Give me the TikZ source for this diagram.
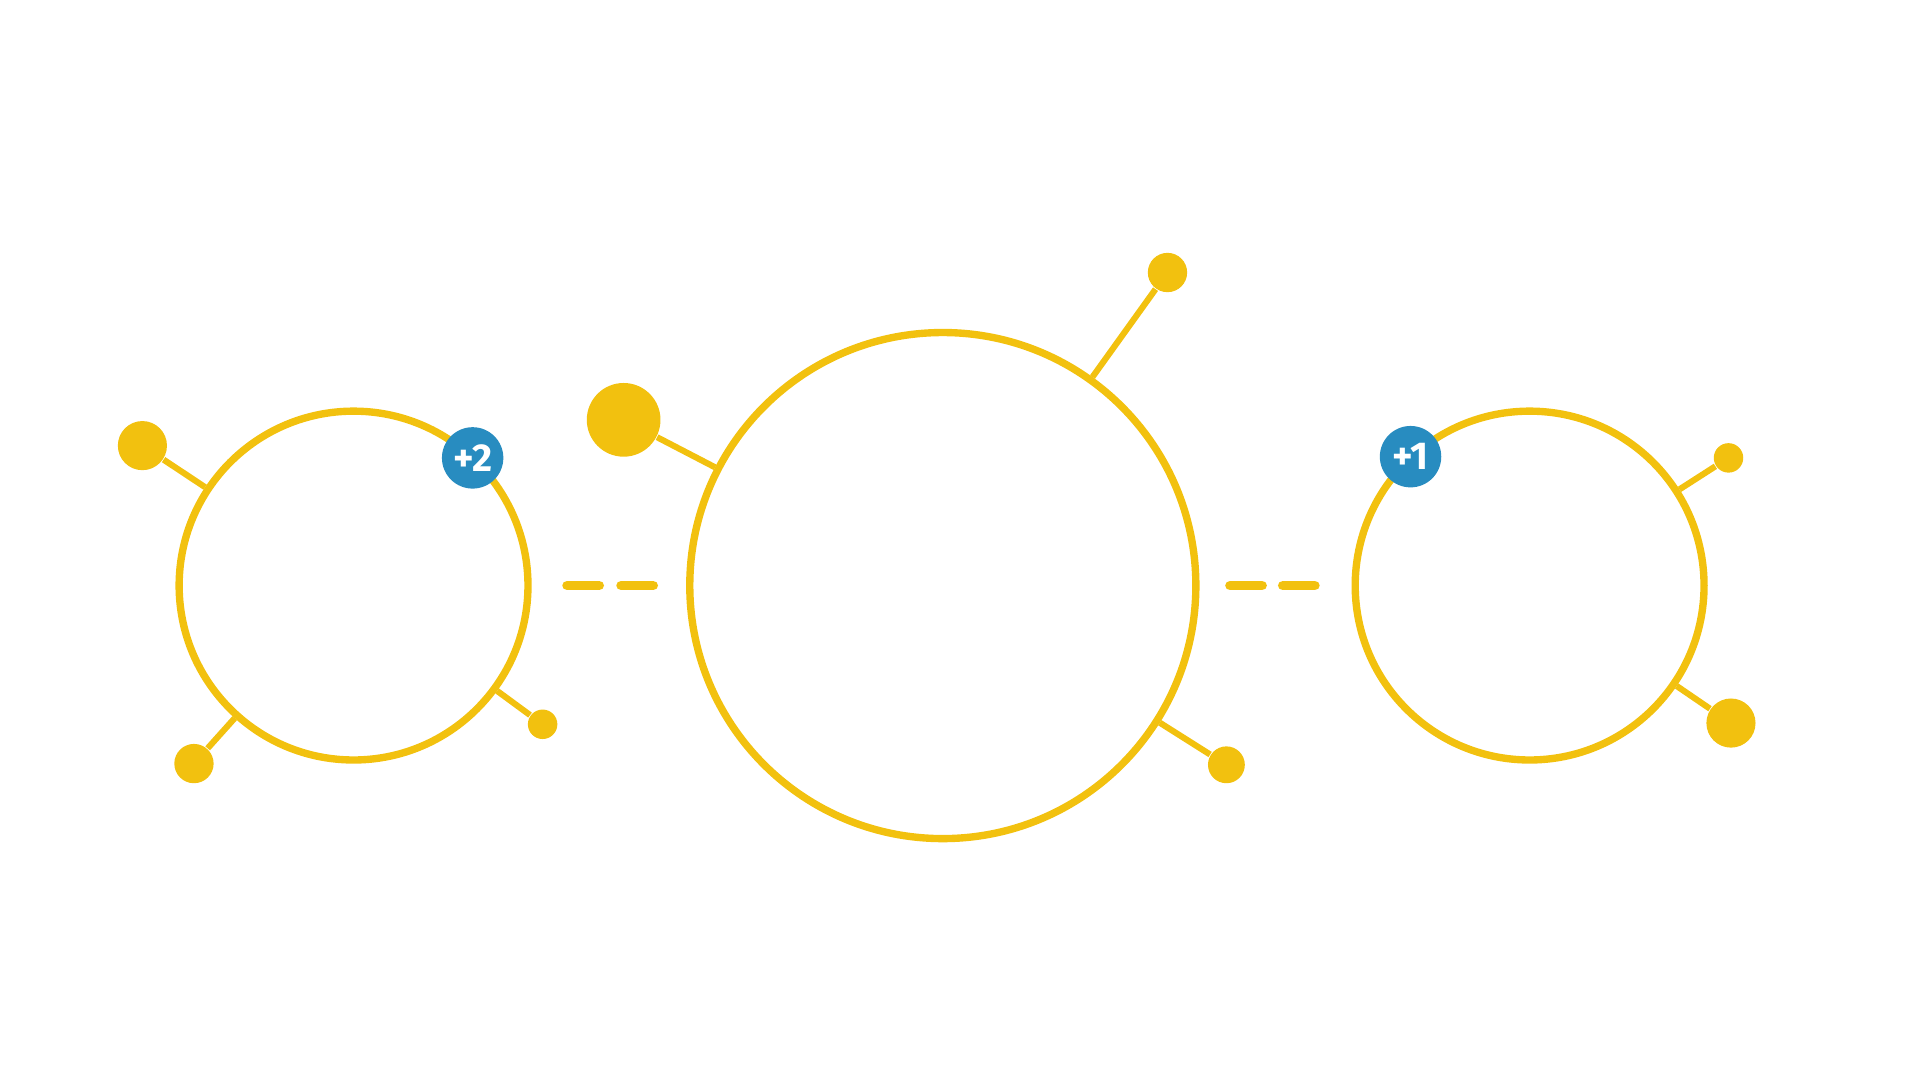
\documentclass[tikz,border=0pt]{standalone}
\usepackage{fontspec}
\usepackage{tikz}
\usetikzlibrary{positioning}
\newfontfamily\badgefont{Fira Sans}
\definecolor{ringcol}{RGB}{242,193,15}
\definecolor{badgecol}{RGB}{40,140,192}
\tikzset{
  ring/.style={draw=ringcol,line width=0.6mm},
  stick/.style={ringcol,line width=0.5mm},
  ball/.style={circle,fill=ringcol,inner sep=0pt},
  linkdash/.style={ringcol,line width=0.8mm,line cap=round},
  badge/.style={circle,fill=badgecol,text=white,inner sep=0pt,minimum size=0.5cm,font=\badgefont\bfseries\small},
}
\begin{document}
\begin{tikzpicture}[x=0.01cm,y=-0.01cm]
  \useasboundingbox (0,0) rectangle (1564,880);

  %--------------------------------------------
  % Rings
  %--------------------------------------------
  \node[ring,circle,minimum size=2.84cm] (L) at (288,477) {};
  \node[ring,circle,minimum size=4.12cm] (C) at (768,477) {};
  \node[ring,circle,minimum size=2.84cm] (R) at (1246,477) {};

  % dashed links
  \foreach \a/\b in {462/488,506/532,1002/1028,1045/1071}{
    \draw[linkdash] (\a,477) -- (\b,477);
  }

  %--------------------------------------------
  % Balls on sticks
  %--------------------------------------------
  \foreach \n/\x/\y/\r in {L/116/363/4, L/158/622/3.2, L/442/590/2.4,
                           C/508/342/6, C/951/222/3.2, C/999/623/3,
                           R/1408/373/2.4, R/1410/589/4}{
    \node[ball,minimum size=\r mm] (b\n\x) at (\x,\y) {};
    \draw[stick] (b\n\x) -- (\n);
  }

  %--------------------------------------------
  % Badges
  %--------------------------------------------
  \node[badge] (two) at (385,373) {+2};
  \node[badge] (one) at (1149,372) {+1};
\end{tikzpicture}
\end{document}
